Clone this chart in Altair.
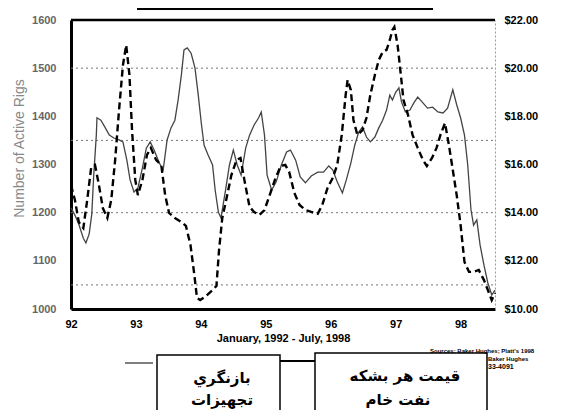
import altair as alt
import pandas as pd

# ---- data ----
oil_year = [1992.00, 1992.06, 1992.12, 1992.19, 1992.25, 1992.31, 1992.37, 1992.43, 1992.49, 1992.56,
            1992.62, 1992.68, 1992.74, 1992.80, 1992.85, 1992.90, 1992.94, 1992.99, 1993.03, 1993.10,
            1993.17, 1993.23, 1993.31, 1993.39, 1993.45, 1993.51, 1993.60, 1993.70, 1993.77, 1993.84,
            1993.90, 1993.94, 1993.99, 1994.08, 1994.18, 1994.24, 1994.28, 1994.33, 1994.39, 1994.47,
            1994.55, 1994.61, 1994.67, 1994.75, 1994.82, 1994.90, 1994.98, 1995.06, 1995.15, 1995.23,
            1995.30, 1995.36, 1995.44, 1995.52, 1995.61, 1995.70, 1995.80, 1995.87, 1995.95, 1996.03,
            1996.10, 1996.17, 1996.23, 1996.26, 1996.31, 1996.35, 1996.41, 1996.49, 1996.55, 1996.61,
            1996.68, 1996.74, 1996.80, 1996.86, 1996.91, 1996.95, 1996.98, 1997.03, 1997.08, 1997.12,
            1997.19, 1997.26, 1997.34, 1997.42, 1997.48, 1997.56, 1997.63, 1997.69, 1997.76, 1997.82,
            1997.88, 1997.94, 1998.00, 1998.06, 1998.13, 1998.20, 1998.28, 1998.36, 1998.42, 1998.48,
            1998.53]
oil_price = [15.15, 14.53, 13.61, 13.36, 14.53, 15.86, 15.98, 15.15, 14.19, 13.78,
             14.53, 16.19, 18.26, 20.13, 20.96, 19.72, 17.43, 15.36, 14.73, 15.36,
             16.40, 16.69, 16.19, 15.98, 14.73, 13.99, 13.78, 13.61, 13.45, 12.66,
             11.41, 10.46, 10.37, 10.54, 10.79, 10.96, 12.45, 13.78, 14.53, 15.56,
             16.19, 16.27, 15.36, 14.24, 14.03, 13.90, 14.11, 14.73, 15.44, 15.94,
             15.98, 15.69, 14.82, 14.32, 14.11, 14.03, 13.95, 14.32, 15.02, 15.44,
             15.98, 17.23, 18.89, 19.51, 19.09, 17.85, 17.23, 17.43, 17.93, 18.89,
             19.72, 20.34, 20.67, 20.76, 21.17, 21.59, 21.71, 20.96, 19.72, 18.68,
             18.06, 17.23, 16.69, 16.19, 15.94, 16.27, 16.69, 17.23, 17.72, 16.81,
             15.77, 14.73, 13.49, 11.95, 11.54, 11.54, 11.62, 11.20, 10.79, 10.37,
             10.66]

rig_year = [1992.00, 1992.06, 1992.12, 1992.19, 1992.23, 1992.28, 1992.32, 1992.35, 1992.39, 1992.40,
            1992.46, 1992.52, 1992.59, 1992.66, 1992.74, 1992.80, 1992.86, 1992.91, 1992.97, 1993.03,
            1993.10, 1993.16, 1993.22, 1993.28, 1993.36, 1993.42, 1993.48, 1993.54, 1993.60, 1993.65,
            1993.70, 1993.74, 1993.79, 1993.85, 1993.91, 1993.96, 1994.01, 1994.05, 1994.11, 1994.18,
            1994.22, 1994.27, 1994.31, 1994.38, 1994.44, 1994.50, 1994.56, 1994.62, 1994.69, 1994.75,
            1994.82, 1994.89, 1994.93, 1994.98, 1995.02, 1995.09, 1995.16, 1995.24, 1995.32, 1995.38,
            1995.46, 1995.53, 1995.61, 1995.70, 1995.80, 1995.89, 1995.97, 1996.03, 1996.10, 1996.18,
            1996.24, 1996.31, 1996.37, 1996.43, 1996.49, 1996.55, 1996.61, 1996.68, 1996.74, 1996.80,
            1996.86, 1996.91, 1996.95, 1997.00, 1997.05, 1997.09, 1997.15, 1997.22, 1997.28, 1997.34,
            1997.42, 1997.49, 1997.57, 1997.65, 1997.73, 1997.80, 1997.88, 1997.94, 1998.00, 1998.06,
            1998.11, 1998.16, 1998.20, 1998.25, 1998.30, 1998.36, 1998.42, 1998.48, 1998.53]
rig_count = [1210, 1195, 1176, 1147, 1137, 1156, 1197, 1278, 1361, 1397,
             1392, 1378, 1361, 1355, 1351, 1347, 1309, 1268, 1243, 1251,
             1293, 1334, 1347, 1330, 1303, 1289, 1351, 1376, 1392, 1434,
             1486, 1538, 1542, 1531, 1500, 1444, 1382, 1340, 1320, 1299,
             1247, 1201, 1189, 1247, 1299, 1330, 1299, 1278, 1334, 1361,
             1382, 1397, 1409, 1361, 1278, 1247, 1264, 1299, 1326, 1330,
             1309, 1274, 1262, 1276, 1284, 1284, 1297, 1289, 1264, 1241,
             1268, 1303, 1340, 1367, 1378, 1357, 1347, 1357, 1376, 1392,
             1413, 1444, 1434, 1450, 1459, 1430, 1409, 1413, 1428, 1440,
             1428, 1417, 1419, 1409, 1407, 1417, 1455, 1424, 1397, 1361,
             1299, 1206, 1174, 1185, 1133, 1091, 1054, 1029, 1039]

x_ticks = [1992, 1993, 1994, 1995, 1996, 1997, 1998]
rig_ticks = [1000, 1100, 1200, 1300, 1400, 1500, 1600]
price_ticks = [10, 12, 14, 16, 18, 20, 22]
grid_price = [20, 17, 14, 11]

x_title = "January, 1992 - July, 1998"
y_title = "Number of Active Rigs"
legend_rigs = ["بازنگري", "تجهيزات"]
legend_oil = ["قیمت هر بشکه", "نفت خام"]
source_lines = ["Sources: Baker Hughes; Platt's 1998", "Baker Hughes", "33-4091"]

W, H = 424, 289
LATIN = "Liberation Sans"
ARAB = "DejaVu Sans"

rig_df = pd.DataFrame({"year": rig_year, "rigs": rig_count})
oil_df = pd.DataFrame({"year": oil_year, "price": oil_price})
grid_df = pd.DataFrame({"price": grid_price})
one = pd.DataFrame({"a": [0]})

xscale = alt.Scale(domain=[1992.0, 1998.53], nice=False, zero=False)
rig_scale = alt.Scale(domain=[1000, 1600], nice=False, zero=False)
price_scale = alt.Scale(domain=[10, 22], nice=False, zero=False)

x_axis = alt.Axis(values=x_ticks, labelExpr="substring(toString(datum.value), 2, 4)",
                  labelFont=LATIN, labelFontSize=11, labelFontWeight="bold", labelColor="black",
                  labelFlush=False, labelPadding=9, ticks=False, grid=False,
                  domainColor="black", domainWidth=3,
                  title=x_title, titleFont=LATIN, titleFontSize=11, titleFontWeight="bold",
                  titleColor="black", titlePadding=3)

left_axis = alt.Axis(values=rig_ticks, format="d", labelFont=LATIN, labelFontSize=11,
                     labelFontWeight="bold", labelColor="#666", labelPadding=15, ticks=False,
                     grid=False, domainColor="black", domainWidth=3,
                     title=y_title, titleFont=LATIN, titleFontSize=14, titleFontWeight="normal",
                     titleColor="#888", titleX=-52, titleY=128, titleAngle=-90,
                     titleBaseline="middle", titleAlign="center")

right_axis = alt.Axis(orient="right", values=price_ticks, format="$.2f",
                      labelFont=LATIN, labelFontSize=11, labelFontWeight="bold",
                      labelColor="black", labelPadding=9, ticks=False, grid=False,
                      domainColor="#999", domainWidth=1, domainDash=[2, 2], title="")

grid = alt.Chart(grid_df).mark_rule(color="#777", strokeWidth=1, strokeDash=[2, 3]).encode(
    y=alt.Y("price:Q", scale=price_scale, axis=None),
    x=alt.value(0), x2=alt.value(W))

rig = alt.Chart(rig_df).mark_line(color="#444", strokeWidth=1.3).encode(
    x=alt.X("year:Q", scale=xscale, axis=x_axis),
    y=alt.Y("rigs:Q", scale=rig_scale, axis=left_axis))

oil = alt.Chart(oil_df).mark_line(color="black", strokeWidth=2.4, strokeDash=[7, 4]).encode(
    x=alt.X("year:Q", scale=xscale, axis=x_axis),
    y=alt.Y("price:Q", scale=price_scale, axis=right_axis))

top_rule = alt.Chart(one).mark_rule(color="black", strokeWidth=2.5).encode(
    x=alt.value(0), x2=alt.value(W), y=alt.value(0))

top_box = alt.Chart(one).mark_rect(fill="white", fillOpacity=0, stroke="black", strokeWidth=2).encode(
    x=alt.value(67), x2=alt.value(361), y=alt.value(-40), y2=alt.value(-11))

box1 = alt.Chart(one).mark_rect(fill="white", fillOpacity=0, stroke="black", strokeWidth=1.5).encode(
    x=alt.value(86), x2=alt.value(209), y=alt.value(335), y2=alt.value(420))
box2 = alt.Chart(one).mark_rect(fill="white", fillOpacity=0, stroke="black", strokeWidth=1.5).encode(
    x=alt.value(244), x2=alt.value(416), y=alt.value(333), y2=alt.value(420))
lead1 = alt.Chart(one).mark_rule(color="black", strokeWidth=1).encode(
    x=alt.value(54), x2=alt.value(82), y=alt.value(343))
lead2 = alt.Chart(one).mark_rule(color="black", strokeWidth=2).encode(
    x=alt.value(209), x2=alt.value(244), y=alt.value(341))


def label(txt, x, y, size=15, font=ARAB, weight="bold", align="center"):
    return alt.Chart(one).mark_text(font=font, fontSize=size, fontWeight=weight, color="black",
                                    align=align, baseline="middle").encode(
        x=alt.value(x), y=alt.value(y), text=alt.value(txt))


texts = [
    label(legend_rigs[0], 151, 358),
    label(legend_rigs[1], 151, 380),
    label(legend_oil[0], 334, 356),
    label(legend_oil[1], 327, 380),
    label(source_lines[0], 359, 331, size=6, font=LATIN, align="left"),
    label(source_lines[1], 417, 339, size=6, font=LATIN, align="left"),
    label(source_lines[2], 417, 347, size=7, font=LATIN, align="left"),
]

chart = alt.layer(grid, rig, oil, top_rule, top_box, box1, box2, lead1, lead2, *texts).resolve_scale(
    y="independent"
).properties(
    width=W, height=H,
    padding={"left": 63, "top": 12, "right": 60, "bottom": 101},
    autosize=alt.AutoSizeParams(type="none"),
    background="white",
).configure_view(stroke=None)

chart.save("out.html", embed_options={"renderer": "svg", "actions": False})
